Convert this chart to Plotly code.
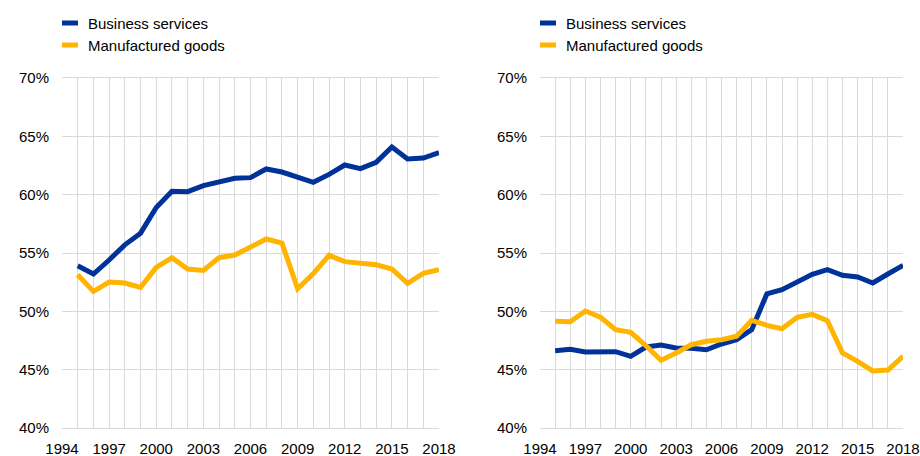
import plotly.graph_objects as go

years = list(range(1995, 2019))
tick_years = list(range(1994, 2019, 3))
tick_labels = [str(y) for y in tick_years]
y_ticks = [40, 45, 50, 55, 60, 65, 70]
y_tick_labels = [f"{v}%" for v in y_ticks]

series_names = ["Business services", "Manufactured goods"]
colors = ["#003299", "#FFB400"]

left_business = [53.9, 53.2, 54.4, 55.7, 56.7, 58.9, 60.3, 60.26, 60.77, 61.14, 61.4, 61.46,
                 62.2, 61.94, 61.46, 61.06, 61.74, 62.54, 62.23, 62.77, 64.09, 63.06, 63.14, 63.6]
left_manuf = [53.14, 51.71, 52.51, 52.43, 52.06, 53.77, 54.6, 53.63, 53.51, 54.6, 54.83, 55.51,
              56.2, 55.86, 51.94, 53.23, 54.8, 54.26, 54.17, 54.0, 53.63, 52.4, 53.26, 53.57]
right_business = [46.63, 46.74, 46.51, 46.51, 46.54, 46.14, 46.94, 47.11, 46.86, 46.83, 46.71, 47.2,
                  47.57, 48.43, 51.49, 51.86, 52.51, 53.17, 53.57, 53.09, 52.94, 52.43, 53.2, 53.94]
right_manuf = [49.14, 49.11, 50.03, 49.49, 48.43, 48.2, 47.06, 45.8, 46.43, 47.14, 47.43, 47.57,
               47.86, 49.23, 48.8, 48.51, 49.49, 49.74, 49.2, 46.43, 45.71, 44.89, 44.97, 46.14]

W, H = 920, 456
FONT = "Liberation Sans, Arial, sans-serif"
GRID = "#d9d9d9"


def px_x(x):
    return x / W


def px_y(y):
    return 1 - y / H


fig = go.Figure()
panels = [("x", "y", [left_business, left_manuf]), ("x2", "y2", [right_business, right_manuf])]
for xa, ya, data in panels:
    for name, col, vals in zip(series_names, colors, data):
        fig.add_trace(go.Scatter(x=years, y=vals, mode="lines", name=name, xaxis=xa, yaxis=ya,
                                 line=dict(color=col, width=5), showlegend=False,
                                 hoverinfo="skip"))

panel_left_px = [62, 540]
panel_right_px = [439, 903]
x_domains = [(px_x(a), px_x(b)) for a, b in zip(panel_left_px, panel_right_px)]
y_domain = (px_y(428), px_y(78))


def xaxis(dom):
    return dict(domain=dom, range=[1994, 2018], tickvals=tick_years, ticktext=tick_labels,
                showgrid=True, gridcolor=GRID, gridwidth=1, automargin=False,
                minor=dict(dtick=1, tick0=1994, showgrid=True, gridcolor=GRID, gridwidth=1),
                showline=True, linecolor=GRID, linewidth=1, mirror=True,
                ticks="", ticklabelstandoff=7, zeroline=False,
                tickfont=dict(family=FONT, size=15, color="#000000"))


def yaxis(anchor):
    return dict(domain=y_domain, range=[40, 70], tickvals=y_ticks, ticktext=y_tick_labels,
                showgrid=True, gridcolor=GRID, gridwidth=1, zeroline=False, automargin=False,
                showline=False, ticks="", ticklabelstandoff=12, anchor=anchor,
                tickfont=dict(family=FONT, size=15, color="#000000"))


fig.update_layout(
    width=W, height=H, margin=dict(l=0, r=0, t=0, b=0, autoexpand=False),
    paper_bgcolor="white", plot_bgcolor="white",
    xaxis=dict(xaxis(x_domains[0]), anchor="y"),
    xaxis2=dict(xaxis(x_domains[1]), anchor="y2"),
    yaxis=yaxis("x"),
    yaxis2=yaxis("x2"),
    hovermode=False,
)

# legends (manual, to match the small rectangular swatches)
legend_rows_y = [23, 45]
for x0 in panel_left_px:
    for name, col, yy in zip(series_names, colors, legend_rows_y):
        fig.add_shape(type="rect", xref="paper", yref="paper",
                      x0=px_x(x0), x1=px_x(x0 + 16), y0=px_y(yy + 2.5), y1=px_y(yy - 2.5),
                      fillcolor=col, line=dict(width=0))
        fig.add_annotation(xref="paper", yref="paper", x=px_x(x0 + 26), y=px_y(yy + 0.5),
                           text=name, showarrow=False, xanchor="left", yanchor="middle",
                           xshift=-2, font=dict(family=FONT, size=15, color="#000000"))

fig.write_html(
    "out.html",
    config={"displayModeBar": False, "staticPlot": True},
    post_script="document.body.style.margin='0';document.body.style.overflow='hidden';",
)
